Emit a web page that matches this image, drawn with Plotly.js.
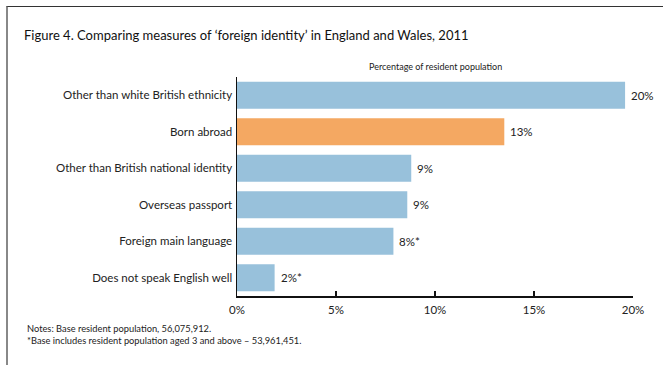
<!DOCTYPE html>
<html><head><meta charset="utf-8">
<script src="https://cdn.plot.ly/plotly-3.0.1.min.js"></script>
<style>
html,body{margin:0;padding:0;background:#fff;}
#wrap{position:relative;width:663px;height:365px;overflow:hidden;}
#frame{position:absolute;left:6px;top:6px;width:680px;height:400px;border-top:1.5px solid #333;border-left:2px solid #888;pointer-events:none;}
#chart{position:absolute;left:0;top:0;width:663px;height:365px;}
</style></head>
<body><div id="wrap"><div id="chart"></div><div id="frame"></div></div>
<script>
var categories = ["Other than white British ethnicity","Born abroad","Other than British national identity","Overseas passport","Foreign main language","Does not speak English well"];
var values = [19.6, 13.5, 8.8, 8.6, 7.9, 1.9];
var valueLabels = ["20%","13%","9%","9%","8%*","2%*"];
var barColors = ["#98c1db","#f4a862","#98c1db","#98c1db","#98c1db","#98c1db"];
var tickVals = [0,5,10,15,20];
var tickText = ["0%","5%","10%","15%","20%"];

var font = "Lato, 'Open Sans', sans-serif";
var trace = {type:"bar", orientation:"h", y:categories, x:values, marker:{color:barColors}, hoverinfo:"none"};
var ann = categories.map(function(c,i){
  return {x:values[i], y:c, xref:"x", yref:"y", text:valueLabels[i], showarrow:false, xanchor:"left", xshift:4, font:{family:font,size:11.5,color:"#222"}};
});
ann.push({xref:"paper", yref:"paper", x:0.5, y:1, yshift:3, text:"Percentage of resident population", showarrow:false, xanchor:"center", yanchor:"bottom", font:{family:font,size:9,color:"#222"}});
ann.push({xref:"paper", yref:"paper", x:-0.535, y:0, yshift:-25, text:"Notes: Base resident population, 56,075,912.<br>*Base includes resident population aged 3 and above \u2013 53,961,451.", showarrow:false, xanchor:"left", yanchor:"top", align:"left", font:{family:font,size:9.3,color:"#222"}});
var layout = {
  width:663, height:365,
  margin:{l:237, r:30, t:77, b:69},
  paper_bgcolor:"rgba(0,0,0,0)", plot_bgcolor:"rgba(0,0,0,0)",
  title:{text:"Figure 4. Comparing measures of \u2018foreign identity\u2019 in England and Wales, 2011", x:24/663, xref:"container", xanchor:"left", y:1-35/365, yanchor:"middle", font:{family:font,size:13,color:"#111"}},
  bargap:0.26,
  showlegend:false,
  xaxis:{range:[0,20], tickvals:tickVals, ticktext:tickText, showgrid:false, zeroline:false, showline:true, linecolor:"#111", linewidth:1.5, ticks:"inside", ticklen:5, tickcolor:"#111", tickwidth:1.2, ticklabelstandoff:3, tickfont:{family:font,size:11.5,color:"#222"}, fixedrange:true},
  yaxis:{autorange:"reversed", showgrid:false, zeroline:false, showline:true, linecolor:"#111", linewidth:1.5, ticks:"", ticklabelstandoff:1, tickfont:{family:font,size:11.5,color:"#222"}, fixedrange:true},
  annotations:ann
};
Plotly.newPlot("chart",[trace],layout,{displayModeBar:false,staticPlot:true});
</script></body></html>
